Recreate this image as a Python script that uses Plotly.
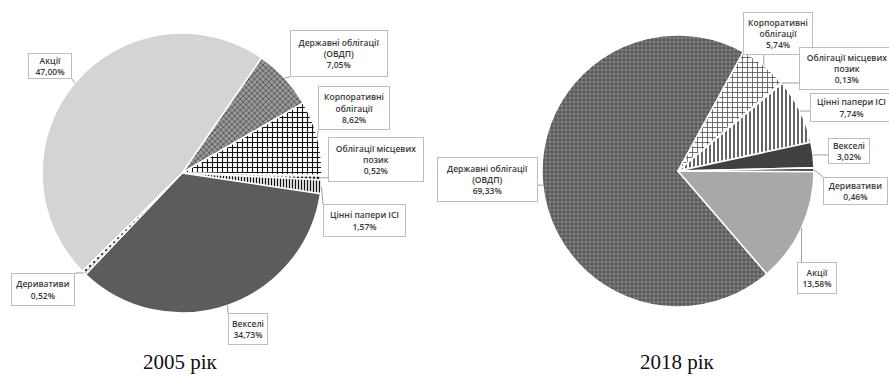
import math
import plotly.graph_objects as go

# ---- data ----
categories = [
    "Державні облігації<br>(ОВДП)",
    "Корпоративні<br>облігації",
    "Облігації місцевих<br>позик",
    "Цінні папери ІСІ",
    "Векселі",
    "Деривативи",
    "Акції",
]
shares_2005 = [7.05, 8.62, 0.52, 1.57, 34.73, 0.52, 47.00]
shares_2018 = [69.33, 5.74, 0.13, 7.74, 3.02, 0.46, 13.58]
titles = ["2005 рік", "2018 рік"]

# ---- layout constants ----
W, H = 889, 376
FONT = "Open Sans"

def px(x, y):
    """pixel -> paper coordinates"""
    return x / W, 1 - y / H

charts = [
    dict(
        values=shares_2005, cx=182, cy=173, r=140, rotation=34.6, title_x=180,
        colors=["#9a9a9a", "#ffffff", "#ffffff", "#ffffff", "#5c5c5c", "#ffffff", "#d4d4d4"],
        patterns=[
            dict(shape="x", fgcolor="#4a4a4a", bgcolor="#9a9a9a", size=4, solidity=0.35),
            dict(shape="+", fgcolor="#111111", bgcolor="#ffffff", size=5, solidity=0.4),
            dict(shape=".", fgcolor="#222222", bgcolor="#ffffff", size=4, solidity=0.4),
            dict(shape="|", fgcolor="#111111", bgcolor="#ffffff", size=3, solidity=0.45),
            dict(shape="", fgcolor="#5c5c5c", bgcolor="#5c5c5c"),
            dict(shape=".", fgcolor="#333333", bgcolor="#ffffff", size=4, solidity=0.4),
            dict(shape="", fgcolor="#d4d4d4", bgcolor="#d4d4d4"),
        ],
        # label boxes: centre x, centre y, width, height (pixels)
        boxes=[(339, 53.5, 98, 47), (354, 108, 72, 44), (376, 159.5, 96, 45),
               (364.5, 220.5, 83, 33), (248, 329, 40, 32), (43, 289.5, 64, 33),
               (50, 66, 44, 26)],
    ),
    dict(
        values=shares_2018, cx=678, cy=171, r=136, rotation=139.2, title_x=677,
        colors=["#5e5e5e", "#ffffff", "#ffffff", "#ffffff", "#404040", "#ffffff", "#a8a8a8"],
        patterns=[
            dict(shape="+", fgcolor="#9a9a9a", bgcolor="#575757", size=4, solidity=0.3),
            dict(shape="+", fgcolor="#555555", bgcolor="#ffffff", size=5, solidity=0.3),
            dict(shape=".", fgcolor="#333333", bgcolor="#ffffff", size=4, solidity=0.4),
            dict(shape="|", fgcolor="#222222", bgcolor="#ffffff", size=4, solidity=0.35),
            dict(shape="", fgcolor="#404040", bgcolor="#404040"),
            dict(shape="-", fgcolor="#222222", bgcolor="#ffffff", size=4, solidity=0.4),
            dict(shape="", fgcolor="#a8a8a8", bgcolor="#a8a8a8"),
        ],
        boxes=[(487.5, 179.5, 101, 45), (778, 33.5, 70, 43), (847, 68.5, 96, 43),
               (851.5, 107.5, 83, 29), (849, 151, 42, 26), (855.5, 191, 65, 28),
               (817, 278, 40, 32)],
    ),
]

fig = go.Figure()
annotations = []
shapes = []

for ch, title in zip(charts, titles):
    cx, cy, r = ch["cx"], ch["cy"], ch["r"]
    x0, y1 = px(cx - r, cy - r)
    x1, y0 = px(cx + r, cy + r)
    fig.add_trace(go.Pie(
        labels=categories,
        values=ch["values"],
        sort=False,
        direction="clockwise",
        rotation=ch["rotation"],
        textinfo="none",
        hoverinfo="skip",
        domain=dict(x=[x0, x1], y=[y0, y1]),
        marker=dict(
            colors=ch["colors"],
            line=dict(color="#ffffff", width=1.5),
            pattern=dict(
                shape=[p["shape"] for p in ch["patterns"]],
                fgcolor=[p["fgcolor"] for p in ch["patterns"]],
                bgcolor=[p["bgcolor"] for p in ch["patterns"]],
                size=[p.get("size", 6) for p in ch["patterns"]],
                solidity=[p.get("solidity", 0.3) for p in ch["patterns"]],
                fillmode="replace",
            ),
        ),
    ))

    total = sum(ch["values"])
    cum = 0.0
    for cat, v, (bx, by, bw, bh) in zip(categories, ch["values"], ch["boxes"]):
        mid = math.radians(ch["rotation"] + 360 * (cum + v / 2) / total)
        cum += v
        ax = cx + r * math.sin(mid)
        ay = cy - r * math.cos(mid)
        # leader line to the nearest point of the label box
        nx = min(max(ax, bx - bw / 2), bx + bw / 2)
        ny = min(max(ay, by - bh / 2), by + bh / 2)
        p0 = px(ax, ay)
        p1 = px(nx, ny)
        shapes.append(dict(type="line", xref="paper", yref="paper",
                           x0=p0[0], y0=p0[1], x1=p1[0], y1=p1[1],
                           line=dict(color="#a0a0a0", width=1)))
        txt = f"{cat}<br>{v:.2f}".replace(".", ",") + "%"
        tx, ty = px(bx, by)
        annotations.append(dict(
            x=tx, y=ty, xref="paper", yref="paper", xanchor="center", yanchor="middle",
            text=txt, showarrow=False, align="center", valign="middle",
            width=bw - 2, height=bh - 2, borderpad=0, borderwidth=1,
            bordercolor="#bdbdbd", bgcolor="#ffffff",
            font=dict(family=FONT, size=8.5, color="#383838", weight=600),
        ))

    tx, ty = px(ch["title_x"], 362)
    annotations.append(dict(
        x=tx, y=ty, xref="paper", yref="paper", xanchor="center", yanchor="middle",
        text=title, showarrow=False,
        font=dict(family="Liberation Serif", size=21, color="#111111"),
    ))

fig.update_layout(
    width=W, height=H,
    margin=dict(l=0, r=0, t=0, b=0),
    paper_bgcolor="#ffffff",
    plot_bgcolor="#ffffff",
    showlegend=False,
    annotations=annotations,
    shapes=shapes,
)

fig.write_html("out.html")
